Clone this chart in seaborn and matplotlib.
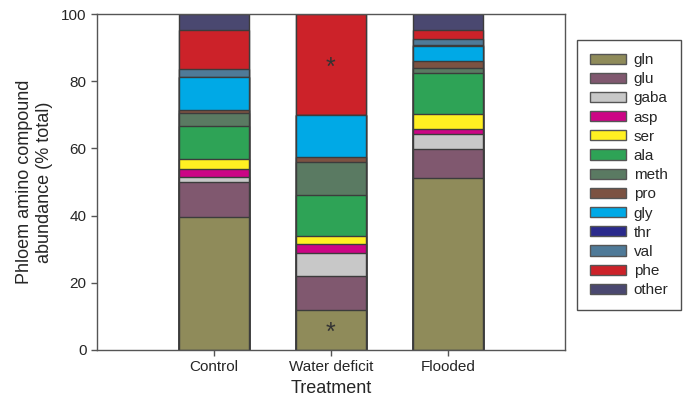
import matplotlib
matplotlib.use("Agg")
import matplotlib.pyplot as plt
import matplotlib.patches as mpatches
import numpy as np
import pandas as pd
import seaborn as sns

treatments = ["Control", "Water deficit", "Flooded"]
compounds = ["gln", "glu", "gaba", "asp", "ser", "ala", "meth", "pro",
             "gly", "thr", "val", "phe", "other"]

# % of total, bottom to top, one list per treatment
control = [39.6, 10.4, 1.6, 2.4, 2.9, 9.8, 4.0, 0.7, 9.9, 0.0, 2.5, 11.4, 4.8]
water_deficit = [11.8, 10.3, 6.7, 2.7, 2.3, 12.2, 9.9, 1.4, 12.8, 0.0, 0.0, 29.9, 0.0]
flooded = [51.2, 8.5, 4.6, 1.4, 4.7, 12.0, 1.7, 1.9, 4.6, 0.3, 1.6, 2.9, 4.6]

colors = ["#8f8b5a", "#80586f", "#c8c8c8", "#cc0585", "#fff022", "#2ea356",
          "#5a7a62", "#7c5242", "#00a9e6", "#2a2a8c", "#4f7a98", "#cc2229",
          "#4a4870"]

sns.set_style("white")
plt.rcParams["font.family"] = ["Liberation Sans", "DejaVu Sans"]

values = np.array([control, water_deficit, flooded])
cum = np.cumsum(values, axis=1)
df = pd.DataFrame(cum, index=treatments, columns=compounds)

fig = plt.figure(figsize=(6.88, 4.04), dpi=100)
ax = fig.add_axes([0.141, 0.134, 0.68, 0.831])

# draw the stacks from the top layer down so each bar covers the one above
for i in range(len(compounds) - 1, -1, -1):
    sns.barplot(x=treatments, y=df[compounds[i]].values, color=colors[i],
                width=0.6, edgecolor="#3c3c3c", linewidth=1.0,
                saturation=1, ax=ax)

ax.set_xlim(-1, 3)
ax.set_ylim(0, 100)
ax.set_yticks([0, 20, 40, 60, 80, 100])
ax.set_xlabel("Treatment", fontsize=13, labelpad=4)
ax.set_ylabel("Phloem amino compound\nabundance (% total)", fontsize=13,
              labelpad=6)
ax.tick_params(axis="both", labelsize=11, direction="out", length=4,
               width=1, color="#555555", left=True, bottom=True)
for s in ax.spines.values():
    s.set_color("#555555")
    s.set_linewidth(1.0)

ax.text(1, 84, "*", ha="center", va="center", fontsize=18, color="#333333")
ax.text(1, 5, "*", ha="center", va="center", fontsize=18, color="#333333")

handles = [mpatches.Patch(facecolor=c, edgecolor="#555555", label=n)
           for c, n in zip(colors, compounds)]
leg = fig.legend(handles=handles, loc="upper left",
                 bbox_to_anchor=(0.8387, 0.901), borderaxespad=0,
                 fontsize=11, frameon=True, fancybox=False,
                 edgecolor="#222222", handlelength=2.35, handleheight=0.65,
                 labelspacing=0.34, borderpad=0.85, handletextpad=0.5)
leg.get_frame().set_linewidth(1.0)

fig.savefig("out.png", dpi=100)
